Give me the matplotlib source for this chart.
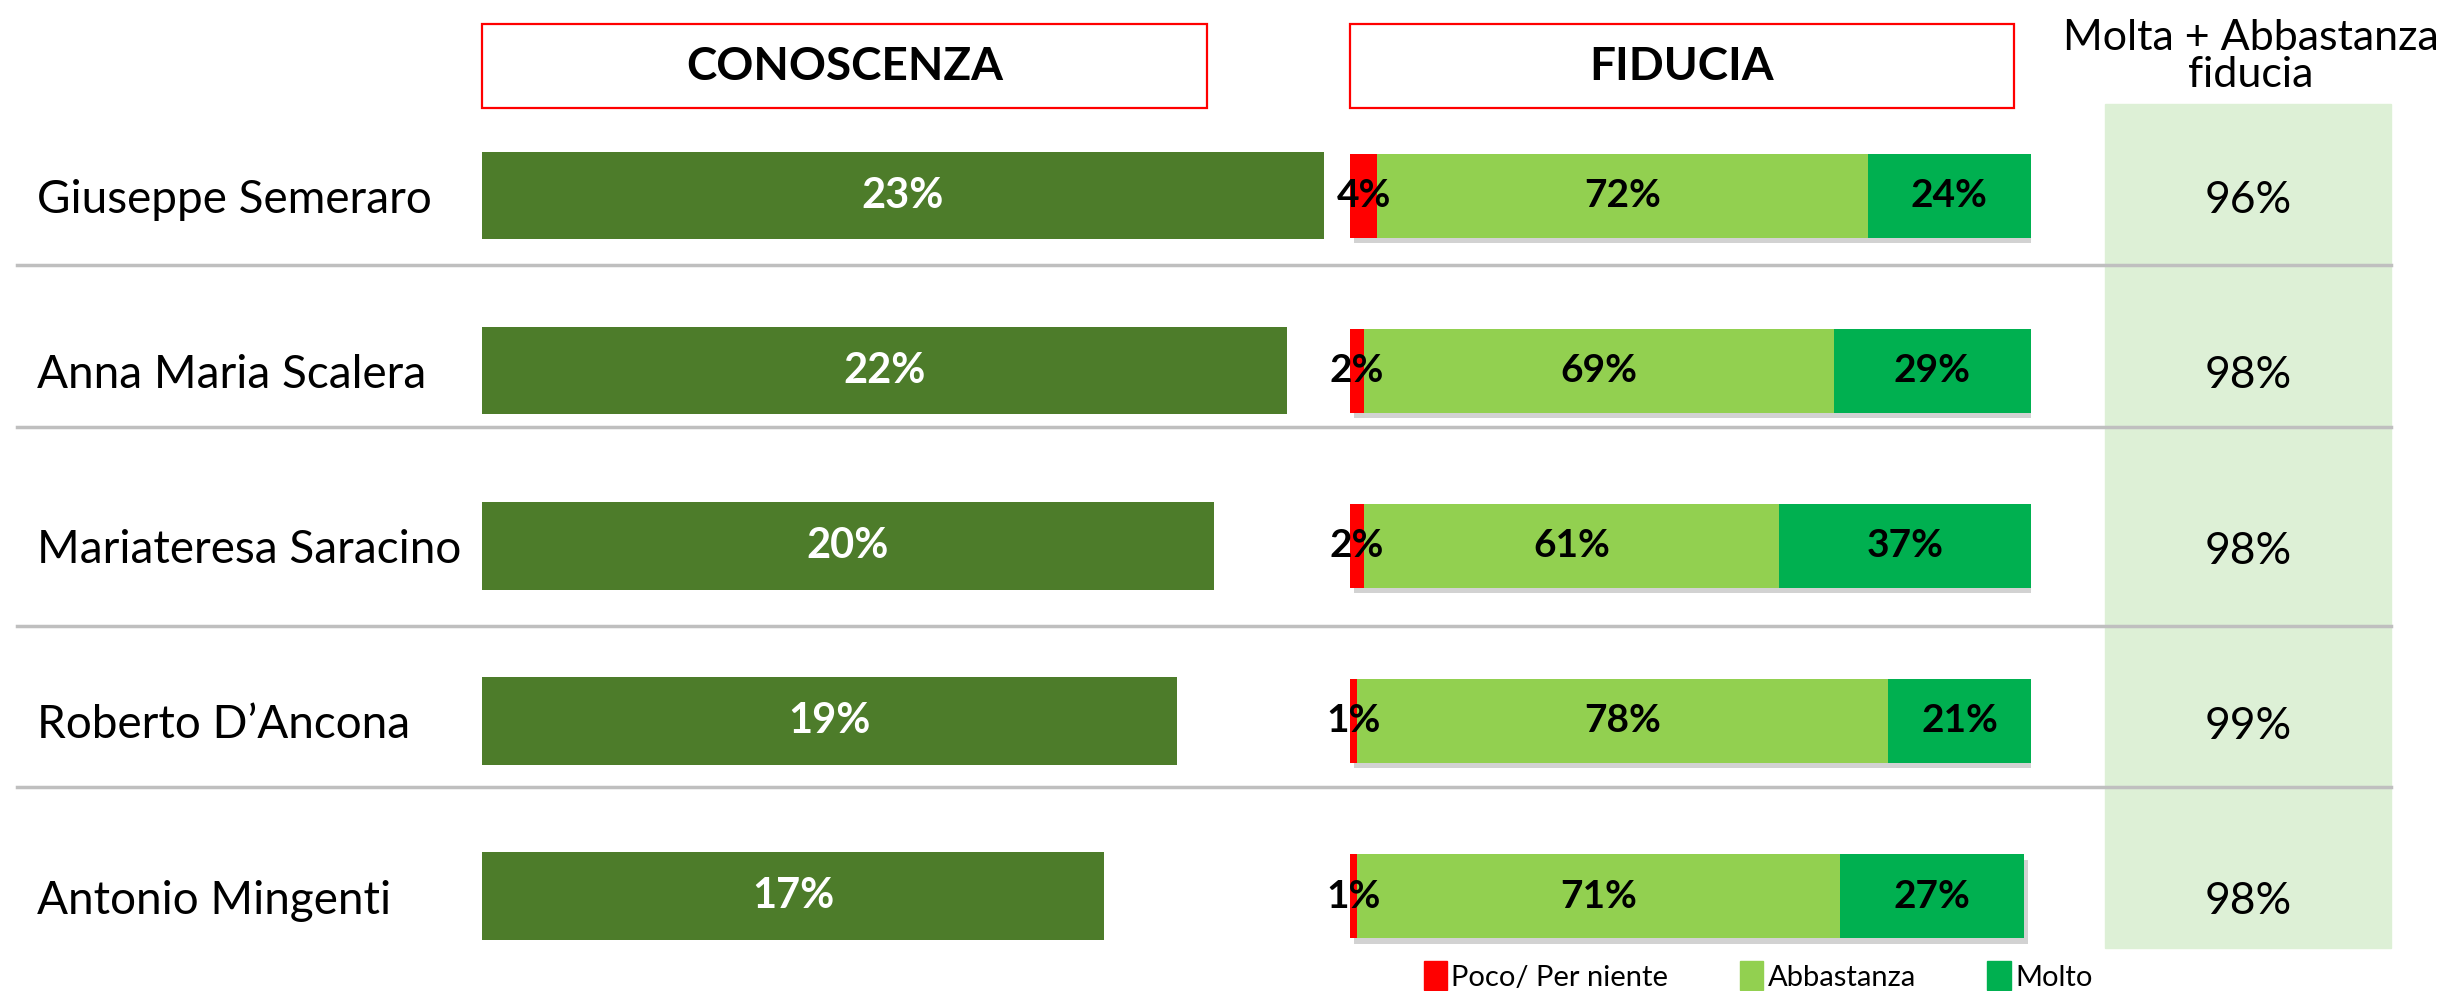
import numpy as np
import matplotlib
matplotlib.use('Agg')
import matplotlib.pyplot as plt
from matplotlib.patches import Rectangle, Patch
from matplotlib.transforms import blended_transform_factory
import matplotlib.patheffects as pe

plt.rcParams['font.family'] = ['Lato', 'DejaVu Sans']

# data
names = ['Giuseppe Semeraro', 'Anna Maria Scalera', 'Mariateresa Saracino',
         'Roberto D\u2019Ancona', 'Antonio Mingenti']
conoscenza = [23, 22, 20, 19, 17]
poco = [4, 2, 2, 1, 1]
abbastanza = [72, 69, 61, 78, 71]
molto = [24, 29, 37, 21, 27]
totale = [96, 98, 98, 99, 98]
legend_labels = ['Poco/ Per niente', 'Abbastanza', 'Molto']

c_con = '#4D7C2A'
c_poco = '#FF0000'
c_abb = '#92D050'
c_molto = '#00B050'
c_panel = '#DDF0D6'

W, H = 2463, 991
fig = plt.figure(figsize=(W / 100, H / 100), dpi=100)

# background layer in pixel coordinates for frames and separators
ax_bg = fig.add_axes([0, 0, 1, 1], zorder=0)
ax_bg.set_xlim(0, W)
ax_bg.set_ylim(H, 0)
ax_bg.axis('off')

ax_bg.add_patch(Rectangle((2105, 104), 286, 844, color=c_panel, zorder=1))
for ysep in [265, 427, 626, 787]:
    ax_bg.plot([17, 2391], [ysep, ysep], color='#BFBFBF', lw=2.5, zorder=2)

ax_bg.add_patch(Rectangle((482, 24), 725, 84, fill=False, ec='#FF0000', lw=1.6, zorder=3))
ax_bg.add_patch(Rectangle((1350, 24), 664, 84, fill=False, ec='#FF0000', lw=1.6, zorder=3))
ax_bg.text(845, 67, 'CONOSCENZA', fontsize=33, fontweight='bold', ha='center', va='center')
ax_bg.text(1682, 67, 'FIDUCIA', fontsize=33, fontweight='bold', ha='center', va='center')
ax_bg.text(2251, 50, 'Molta + Abbastanza', fontsize=31, ha='center', va='baseline')
ax_bg.text(2251, 87, 'fiducia', fontsize=31, ha='center', va='baseline')

# rows: 175.1 px per row, first row centre at 195.6 px
row_px = 175.1
top_px = 195.6 - row_px / 2
bot_px = top_px + 5 * row_px
ypos = np.arange(len(names))

# conoscenza
ax_con = fig.add_axes([482 / W, 1 - bot_px / H, 915 / W, 5 * row_px / H], zorder=3)
ax_con.barh(ypos, conoscenza, height=0.5, color=c_con)
ax_con.set_xlim(0, 25)
ax_con.set_ylim(4.5, -0.5)
ax_con.axis('off')
for i, v in enumerate(conoscenza):
    ax_con.text(v / 2, i, f'{v}%', color='white', fontsize=30, fontweight='bold',
                ha='center', va='center')

# names
tr_names = blended_transform_factory(ax_bg.transData, ax_con.transData)
for i, n in enumerate(names):
    ax_bg.text(37, i + 0.1, n, transform=tr_names, fontsize=33, ha='left', va='baseline')

# fiducia
ax_fid = fig.add_axes([1350 / W, 1 - bot_px / H, 681 / W, 5 * row_px / H], zorder=3)
shadow = [pe.SimplePatchShadow(offset=(3, -4), shadow_rgbFace='#808080', alpha=0.35), pe.Normal()]
left = np.zeros(len(names))
for vals, col in [(poco, c_poco), (abbastanza, c_abb), (molto, c_molto)]:
    bars = ax_fid.barh(ypos, vals, left=left, height=0.48, color=col)
    for b in bars:
        b.set_path_effects(shadow)
    for i, v in enumerate(vals):
        ax_fid.text(left[i] + v / 2, i, f'{v}%', color='black', fontsize=28,
                    fontweight='bold', ha='center', va='center', zorder=5)
    left = left + np.array(vals)
ax_fid.set_xlim(0, 100)
ax_fid.set_ylim(4.5, -0.5)
ax_fid.axis('off')

# totals in the light green panel
tr_tot = blended_transform_factory(ax_bg.transData, ax_fid.transData)
for i, v in enumerate(totale):
    ax_bg.text(2248, i + 0.03, f'{v}%', transform=tr_tot, fontsize=32,
               ha='center', va='center', zorder=5)

handles = [Patch(color=c) for c in [c_poco, c_abb, c_molto]]
fig.legend(handles, legend_labels, loc='center', bbox_to_anchor=(1758 / W, 1 - 976 / H),
           ncol=3, frameon=False, fontsize=21, handlelength=0.8, handleheight=1.15,
           handletextpad=0.15, columnspacing=2.45)

fig.savefig('out.png', dpi=100)
